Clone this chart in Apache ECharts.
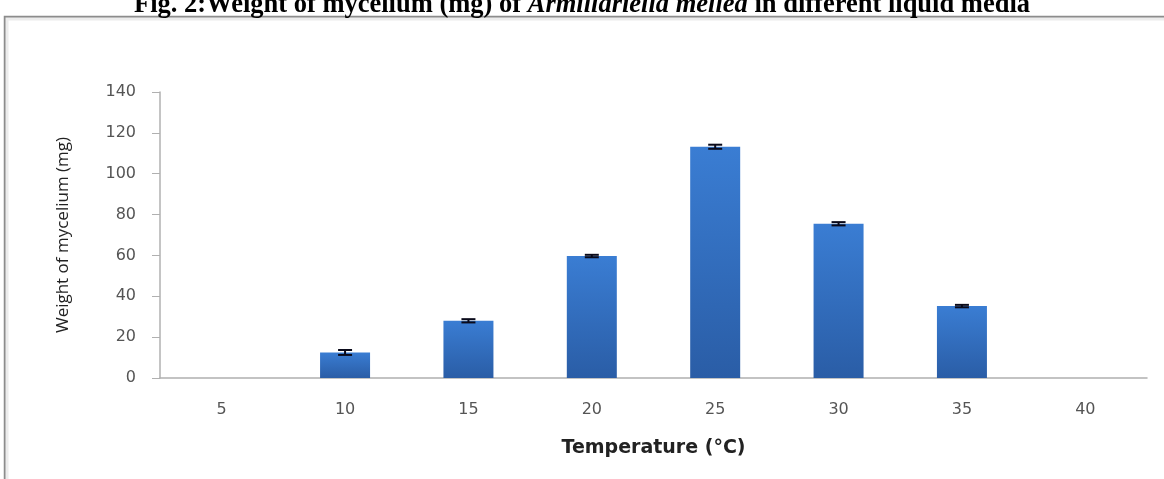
<!DOCTYPE html>
<html>
<head>
<meta charset="utf-8">
<script src="https://cdn.jsdelivr.net/npm/echarts@6/dist/echarts.min.js"></script>
<style>html,body{margin:0;padding:0;background:#fff}#c{width:1164px;height:479px}</style>
</head>
<body>
<div id="c"></div>
<script>
const categories = ['5', '10', '15', '20', '25', '30', '35', '40'];
const weights = [0, 12.5, 28, 59.7, 113.2, 75.5, 35.2, 0];
const errors = [0, 1.2, 0.8, 0.6, 1.0, 0.8, 0.6, 0];
const yTicks = [0, 20, 40, 60, 80, 100, 120, 140];

const chart = echarts.init(document.getElementById('c'));
const errData = categories.map((c, i) => [i, weights[i], errors[i]]).filter(d => d[1] > 0);

chart.setOption({
  animation: false,
  backgroundColor: '#fff',
  title: {
    text: '{b|Fig. 2:Weight of mycelium (mg) of }{bi|Armillariella mellea}{b| in different liquid media}',
    left: 'center',
    top: -13,
    textStyle: {
      rich: {
        b: { fontFamily: 'Liberation Serif', fontWeight: 'bold', fontSize: 26.5, color: '#000' },
        bi: { fontFamily: 'Liberation Serif', fontWeight: 'bold', fontStyle: 'italic', fontSize: 26.5, color: '#000' }
      }
    }
  },
  graphic: [{
    type: 'rect',
    z: -10,
    shape: { x: 5, y: 17, width: 1180, height: 490 },
    style: { fill: '#fff', stroke: '#8c8c8c', lineWidth: 2.5 }
  }, {
    type: 'rect',
    z: -9,
    shape: { x: 7, y: 19, width: 1180, height: 490 },
    style: { fill: 'none', stroke: '#ececec', lineWidth: 3 }
  }],
  grid: { left: 160, right: 17, top: 92, bottom: 101 },
  xAxis: {
    type: 'category',
    data: categories,
    axisLine: { lineStyle: { color: '#b0b0b0', width: 1.5 } },
    axisTick: { show: false },
    axisLabel: { color: '#555', fontFamily: 'DejaVu Sans', fontSize: 16, margin: 24 },
    name: 'Temperature (°C)',
    nameLocation: 'middle',
    nameGap: 61,
    nameTextStyle: { color: '#222', fontFamily: 'DejaVu Sans', fontWeight: 'bold', fontSize: 19 }
  },
  yAxis: {
    type: 'value',
    min: 0, max: 140, interval: 20,
    axisLine: { show: true, lineStyle: { color: '#b0b0b0', width: 1.5 } },
    axisTick: { show: true, length: 8, lineStyle: { color: '#b0b0b0' } },
    splitLine: { show: false },
    axisLabel: {
      color: '#555', fontFamily: 'DejaVu Sans', fontSize: 16, margin: 24,
      formatter: v => yTicks.includes(v) ? String(v) : ''
    },
    name: 'Weight of mycelium (mg)',
    nameLocation: 'middle',
    nameGap: 88,
    nameTextStyle: { color: '#222', fontFamily: 'Open Sans', fontSize: 17 }
  },
  series: [{
    type: 'bar',
    data: weights,
    barWidth: 50,
    itemStyle: {
      color: new echarts.graphic.LinearGradient(0, 0, 0, 1, [
        { offset: 0, color: '#3a7dd3' },
        { offset: 1, color: '#2a5da6' }
      ])
    }
  }, {
    type: 'custom',
    data: errData,
    z: 5,
    renderItem: (params, api) => {
      const x = api.value(0), v = api.value(1), e = api.value(2);
      const top = api.coord([x, v + e]);
      const bot = api.coord([x, v - e]);
      const hw = 7;
      return {
        type: 'group',
        children: [
          { type: 'line', shape: { x1: top[0], y1: top[1], x2: bot[0], y2: bot[1] }, style: { stroke: '#0a0a1a', lineWidth: 2 } },
          { type: 'line', shape: { x1: top[0] - hw, y1: top[1], x2: top[0] + hw, y2: top[1] }, style: { stroke: '#0a0a1a', lineWidth: 2 } },
          { type: 'line', shape: { x1: bot[0] - hw, y1: bot[1], x2: bot[0] + hw, y2: bot[1] }, style: { stroke: '#0a0a1a', lineWidth: 2 } }
        ]
      };
    }
  }]
});
</script>
</body>
</html>
